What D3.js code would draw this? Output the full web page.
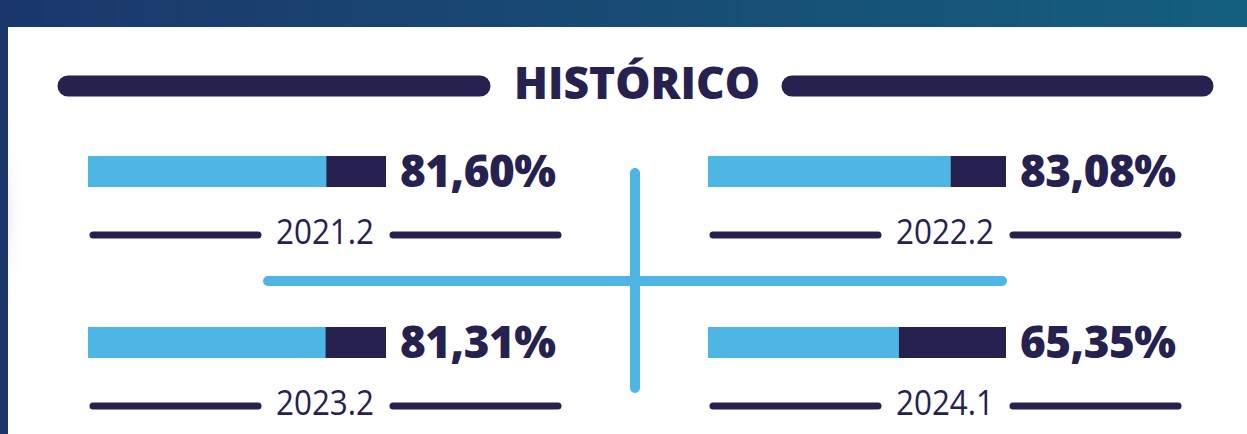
<!DOCTYPE html>
<html>
<head>
<meta charset="utf-8">
<script src="https://cdn.jsdelivr.net/npm/d3@7"></script>
<style>
  html, body { margin: 0; padding: 0; background: #ffffff; }
  svg { display: block; }
</style>
</head>
<body>
<svg id="chart" width="1247" height="434"></svg>
<script>
// ---- data ----
const title = "HISTÓRICO";
const periods = ["2021.2", "2022.2", "2023.2", "2024.1"];
const values = [81.60, 83.08, 81.31, 65.35];

// ---- styles / layout ----
const W = 1247, H = 434;
const navy = "#27214f";
const sky = "#4db6e4";
const fontFamily = "'Open Sans', 'Noto Sans', sans-serif";

const svg = d3.select("#chart");
const defs = svg.append("defs");

const bg = defs.append("linearGradient").attr("id", "bg").attr("x1", "0%").attr("x2", "100%");
bg.append("stop").attr("offset", "0%").attr("stop-color", "#1b376b");
bg.append("stop").attr("offset", "100%").attr("stop-color", "#145f7e");

const shade = defs.append("radialGradient").attr("id", "shade");
shade.append("stop").attr("offset", "0%").attr("stop-color", "#eceef3").attr("stop-opacity", 0.9);
shade.append("stop").attr("offset", "100%").attr("stop-color", "#ffffff").attr("stop-opacity", 0);

defs.append("clipPath").attr("id", "panelClip")
  .append("rect").attr("x", 8).attr("y", 27).attr("width", W - 8).attr("height", H - 27);

svg.append("rect").attr("width", W).attr("height", H).attr("fill", "url(#bg)");
svg.append("rect").attr("x", 8).attr("y", 27).attr("width", W - 8).attr("height", H - 27).attr("fill", "#ffffff");
svg.append("ellipse").attr("clip-path", "url(#panelClip)")
  .attr("cx", 8).attr("cy", 215).attr("rx", 16).attr("ry", 110).attr("fill", "url(#shade)");

// title with side rules
const titleY = 99;
svg.append("text")
  .attr("x", 637).attr("y", titleY)
  .attr("text-anchor", "middle")
  .attr("font-family", fontFamily).attr("font-weight", 800)
  .attr("font-size", 44).attr("fill", navy)
  .attr("textLength", 246).attr("lengthAdjust", "spacingAndGlyphs")
  .text(title);

[[68, 480], [792, 1203]].forEach(([a, b]) => {
  svg.append("line").attr("x1", a).attr("x2", b).attr("y1", 86).attr("y2", 86)
    .attr("stroke", navy).attr("stroke-width", 21).attr("stroke-linecap", "round");
});

// cross divider
svg.append("line").attr("x1", 635).attr("x2", 635).attr("y1", 173).attr("y2", 388)
  .attr("stroke", sky).attr("stroke-width", 10).attr("stroke-linecap", "round");
svg.append("line").attr("x1", 268).attr("x2", 1002).attr("y1", 281).attr("y2", 281)
  .attr("stroke", sky).attr("stroke-width", 10).attr("stroke-linecap", "round");

// panels
const colX = [88, 708];
const rowY = [156, 327];
const barW = 298, barH = 31;
const x = d3.scaleLinear().domain([0, 102]).range([0, barW]);
const fmt = d3.formatLocale({ decimal: ",", thousands: ".", grouping: [3], currency: ["", ""] }).format(".2f");

const items = periods.map((p, i) => ({
  period: p, value: values[i],
  bx: colX[i % 2], by: rowY[Math.floor(i / 2)]
}));

const g = svg.selectAll("g.panel").data(items).join("g").attr("class", "panel");

g.append("rect")
  .attr("x", d => d.bx).attr("y", d => d.by)
  .attr("width", barW).attr("height", barH).attr("fill", navy);
g.append("rect")
  .attr("x", d => d.bx).attr("y", d => d.by)
  .attr("width", d => x(d.value)).attr("height", barH).attr("fill", sky);

g.append("text")
  .attr("x", d => d.bx + barW + 14).attr("y", d => d.by + barH)
  .attr("font-family", fontFamily).attr("font-weight", 800)
  .attr("font-size", 44).attr("fill", navy)
  .attr("letter-spacing", -0.5)
  .text(d => fmt(d.value) + "%");

const center = d => d.bx + 237;
const lineY = d => d.by + 79;
g.append("line")
  .attr("x1", d => d.bx + 5).attr("x2", d => center(d) - 67)
  .attr("y1", lineY).attr("y2", lineY)
  .attr("stroke", navy).attr("stroke-width", 7).attr("stroke-linecap", "round");
g.append("line")
  .attr("x1", d => center(d) + 68).attr("x2", d => d.bx + 470)
  .attr("y1", lineY).attr("y2", lineY)
  .attr("stroke", navy).attr("stroke-width", 7).attr("stroke-linecap", "round");
g.append("text")
  .attr("x", center).attr("y", d => d.by + 88)
  .attr("text-anchor", "middle")
  .attr("font-family", fontFamily).attr("font-weight", 400)
  .attr("font-size", 34).attr("fill", navy)
  .attr("textLength", 98).attr("lengthAdjust", "spacingAndGlyphs")
  .text(d => d.period);
</script>
</body>
</html>
